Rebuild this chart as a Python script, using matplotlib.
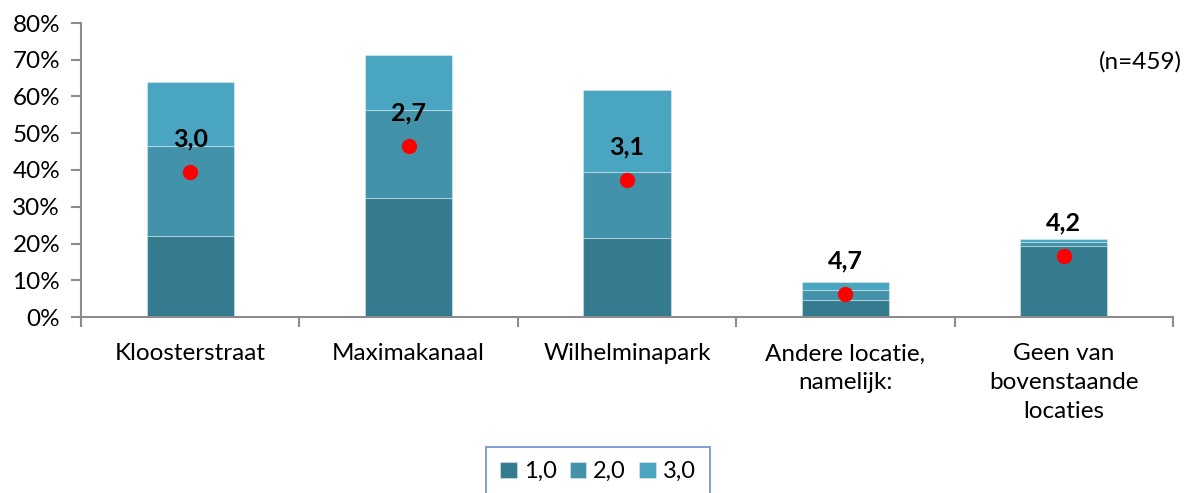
import matplotlib.pyplot as plt
import numpy as np
from matplotlib.ticker import PercentFormatter

plt.rcParams["font.family"] = ["Lato", "DejaVu Sans"]

categories = [
    "Kloosterstraat",
    "Maximakanaal",
    "Wilhelminapark",
    "Andere locatie,\nnamelijk:",
    "Geen van\nbovenstaande\nlocaties",
]
series_names = ["1,0", "2,0", "3,0"]
share_1 = [22.0, 32.4, 21.5, 4.6, 19.4]
share_2 = [24.5, 23.9, 18.0, 2.7, 1.1]
share_3 = [17.5, 15.0, 22.3, 2.1, 0.7]
mean_pos = [39.5, 46.5, 37.3, 6.3, 16.6]
mean_labels = ["3,0", "2,7", "3,1", "4,7", "4,2"]
y_ticks = [0, 10, 20, 30, 40, 50, 60, 70, 80]

colors = ["#357b8f", "#4292aa", "#49a5c0"]
axis_grey = "#8c8c8c"
fs = 17.5

fig = plt.figure(figsize=(11.84, 4.93), dpi=100)
ax = fig.add_axes([81 / 1184, 1 - 317 / 493, 1092 / 1184, 294 / 493])

x = np.arange(len(categories))
bottom = np.zeros(len(categories))
for vals, name, c in zip([share_1, share_2, share_3], series_names, colors):
    ax.bar(x, vals, width=0.4, bottom=bottom, color=c, label=name,
           edgecolor=(1, 1, 1, 0.35), linewidth=0.8)
    bottom += np.array(vals)

ax.plot(x, mean_pos, "o", color="red", markersize=10, zorder=5)
for xi, yi, lab in zip(x, mean_pos, mean_labels):
    ax.annotate(lab, (xi, yi), xytext=(0, 24), textcoords="offset points",
                ha="center", va="center", fontsize=18, fontweight="bold")

ax.set_xlim(-0.5, len(categories) - 0.5)
ax.set_ylim(0, 80)
ax.set_yticks(y_ticks)
ax.yaxis.set_major_formatter(PercentFormatter(decimals=0))
ax.set_xticks(x)
ax.set_xticklabels(categories, fontsize=fs, linespacing=1.45, va="top")
ax.set_xticks(np.arange(len(categories) + 1) - 0.5, minor=True)
ax.tick_params(axis="x", which="major", length=0, pad=19)
ax.tick_params(axis="x", which="minor", length=7, width=1.5, color=axis_grey)
ax.tick_params(axis="y", length=7, width=1.5, color=axis_grey, labelsize=fs, pad=8)

for s in ["top", "right"]:
    ax.spines[s].set_visible(False)
for s in ["left", "bottom"]:
    ax.spines[s].set_color(axis_grey)
    ax.spines[s].set_linewidth(1.5)

fig.text(1182 / 1184, 1 - 62 / 493, "(n=459)", ha="right", va="center", fontsize=fs)

leg = fig.legend(loc="upper center", bbox_to_anchor=(598 / 1184, 1 - 447 / 493),
                 ncol=3, fontsize=17, frameon=True, fancybox=False,
                 handlelength=0.7, handleheight=0.7, handletextpad=0.3,
                 columnspacing=0.55, borderpad=0.6, borderaxespad=0)
leg.get_frame().set_edgecolor("#4472c4")
leg.get_frame().set_linewidth(1.2)

fig.savefig("out.png", dpi=100)
